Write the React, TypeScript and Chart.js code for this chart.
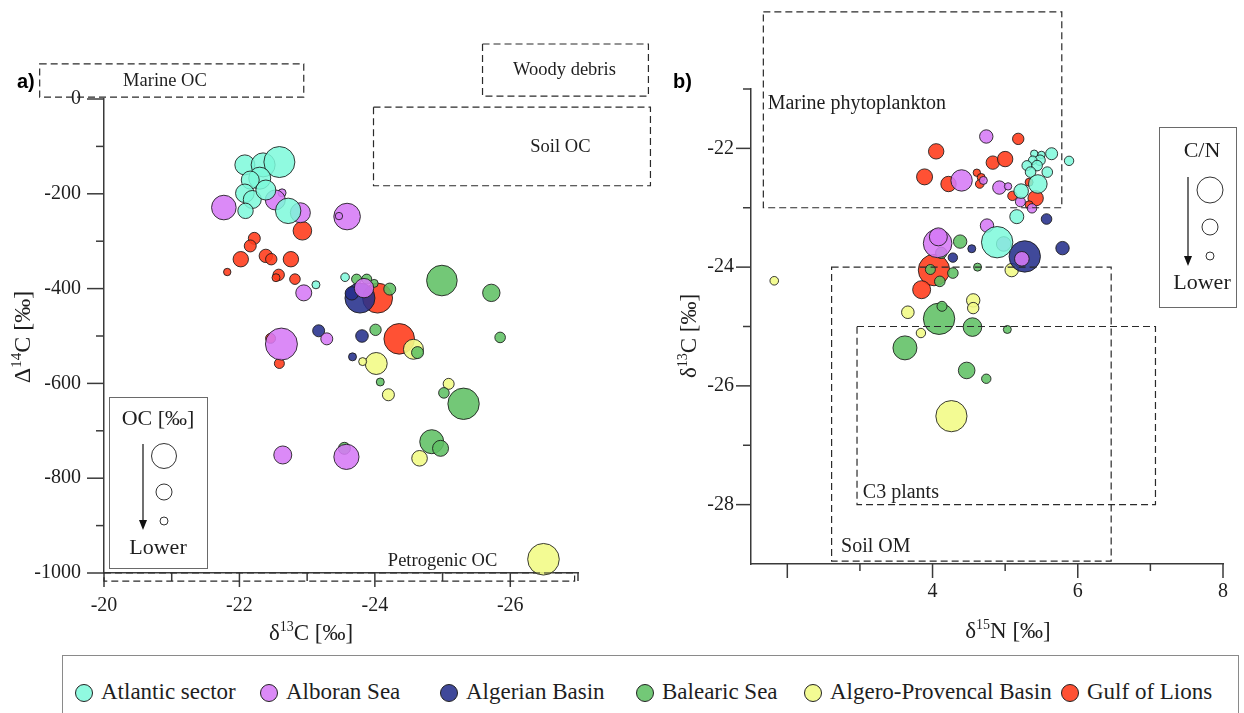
import React, { useEffect, useRef } from 'react';
import { Chart, registerables } from 'chart.js';

Chart.register(...registerables);

const SERIF = '"Liberation Serif", "Times New Roman", serif';
const SANS = '"Liberation Sans", Arial, sans-serif';
const INK = '#1e1e1e';
const AXIS = '#3a3a3a';

// ---------------- data ----------------
const regionNames = ['Atlantic sector', 'Alboran Sea', 'Algerian Basin', 'Balearic Sea', 'Algero-Provencal Basin', 'Gulf of Lions'];

// Panel a: [δ13C ‰, Δ14C ‰, OC size]
const atlanticA = [[-22.08, -139, 10], [-22.35, -139, 12], [-22.59, -133, 15.5], [-22.30, -167, 11], [-22.16, -171, 9], [-22.08, -199, 9.3], [-22.19, -212, 9], [-22.39, -192, 10], [-22.09, -236, 7.7], [-22.72, -236, 12.7], [-23.56, -376, 4.3], [-23.13, -392, 4]];
const alboranA = [[-21.77, -229, 12.3], [-22.63, -198, 4], [-22.53, -213, 10], [-22.90, -240, 10], [-23.59, -248, 13.3], [-23.47, -247, 3.7], [-22.95, -409, 8], [-23.84, -399, 9.7], [-23.29, -506, 6], [-22.62, -517, 16], [-22.64, -751, 9], [-23.58, -755, 12.6]];
const algerianA = [[-23.78, -420, 15], [-23.66, -410, 6.7], [-23.17, -489, 6], [-23.81, -500, 6.3], [-23.67, -544, 4]];
const balearicA = [[-23.73, -380, 5], [-23.88, -380, 5], [-23.99, -389, 4], [-24.22, -401, 6], [-24.99, -383, 15.3], [-25.72, -409, 8.7], [-24.01, -487, 5.7], [-24.63, -535, 6], [-25.85, -503, 5.3], [-24.08, -597, 4], [-25.02, -620, 5.3], [-25.31, -643, 15.7], [-24.84, -723, 12], [-24.97, -737, 8], [-23.55, -737, 6]];
const algeroA = [[-24.02, -558, 11], [-23.82, -554, 4], [-24.57, -528, 10], [-24.20, -624, 6], [-25.09, -601, 5.5], [-24.66, -758, 7.8], [-26.49, -971, 15.8]];
const gulfA = [[-22.93, -278, 9.3], [-22.22, -294, 6], [-22.16, -310, 6], [-22.02, -338, 7.7], [-22.39, -331, 6.7], [-22.47, -338, 5.7], [-22.76, -338, 7.7], [-21.82, -365, 3.7], [-22.58, -371, 5.7], [-22.54, -377, 4], [-22.82, -380, 5.3], [-24.04, -420, 15], [-24.36, -506, 15.3], [-22.46, -505, 5], [-22.59, -558, 5]];

// Panel b: [δ15N ‰, δ13C ‰, C/N size]
const atlanticB = [[5.40, -22.09, 3.7], [5.50, -22.11, 3.7], [5.64, -22.09, 6], [5.88, -22.21, 4.7], [5.48, -22.20, 5.3], [5.38, -22.20, 4.3], [5.30, -22.29, 5], [5.44, -22.29, 5.3], [5.35, -22.40, 5.3], [5.58, -22.40, 5.3], [5.45, -22.60, 9.3], [5.22, -22.72, 7.3], [5.16, -23.15, 7], [4.89, -23.58, 15.7]];
const alboranB = [[4.74, -21.80, 6.7], [4.40, -22.54, 10.7], [4.70, -22.54, 4], [4.92, -22.66, 6.7], [5.04, -22.64, 3.7], [5.21, -22.90, 5], [5.37, -23.01, 4.7], [4.75, -23.30, 6.7], [4.07, -23.60, 14.3], [4.08, -23.49, 9], [4.98, -23.61, 7.3], [5.23, -23.86, 7.3]];
const algerianB = [[5.57, -23.19, 5.3], [4.54, -23.69, 4], [4.28, -23.84, 4.7], [5.27, -23.82, 15.7], [5.79, -23.68, 6.7]];
const balearicB = [[4.38, -23.57, 6.7], [4.12, -23.76, 5.7], [4.28, -24.10, 5.3], [4.10, -24.24, 5.3], [3.97, -24.04, 5], [4.62, -24.00, 4], [4.09, -24.87, 15.7], [4.13, -24.66, 5], [4.55, -25.01, 9.3], [5.03, -25.05, 4], [3.62, -25.36, 12], [4.47, -25.74, 8.3], [4.74, -25.88, 4.7]];
const algeroB = [[5.09, -24.05, 6.7], [4.56, -24.56, 6.7], [4.56, -24.69, 5.7], [3.66, -24.76, 6.3], [3.84, -25.11, 4.7], [4.26, -26.51, 15.6], [1.82, -24.23, 4.3]];
const gulfB = [[5.18, -21.84, 5.7], [4.05, -22.05, 7.7], [4.83, -22.24, 6.7], [5.00, -22.18, 7.7], [3.89, -22.48, 8], [4.22, -22.60, 7.7], [4.61, -22.41, 3.7], [4.67, -22.49, 4], [4.65, -22.60, 4.3], [5.33, -22.57, 4], [5.10, -22.80, 4.7], [5.42, -22.84, 7.7], [5.33, -22.95, 4], [4.02, -24.05, 15.7], [3.85, -24.38, 9]];

// tick labels / tick positions
const xLabelsA = [-20, -22, -24, -26];
const xMinorA = [-21, -23, -25, -27];
const yLabelsA = [0, -200, -400, -600, -800, -1000];
const yMinorA = [-100, -300, -500, -700, -900];
const xLabelsB = [2, 4, 6, 8];
const xMinorB = [3, 5, 7];
const yLabelsB = [-22, -24, -26, -28];
const yMinorB = [-21, -23, -25, -27];

// axis titles: [text, superscript, text]
const xTitleA = ['δ', '13', 'C [‰]'];
const yTitleA = ['Δ', '14', 'C [‰]'];
const xTitleB = ['δ', '15', 'N [‰]'];
const yTitleB = ['δ', '13', 'C [‰]'];

// source end-member regions (data units): [label, x0, x1, y0, y1, textX, textY, align]
const regionsA: [string, number, number, number, number, number, number, CanvasTextAlign][] = [
  ['Marine OC', -19.05, -22.95, 74, 4, -20.9, 38, 'center'],
  ['Woody debris', -25.59, -28.04, 116, 6, -26.8, 61, 'center'],
  ['Soil OC', -23.98, -28.07, -17, -183, -26.74, -101, 'center'],
  ['Petrogenic OC', -20, -26.95, -1000, -1017, -25.0, -975, 'center'],
];
const regionsB: [string, number, number, number, number, number, number, CanvasTextAlign][] = [
  ['Marine phytoplankton', 1.67, 5.78, -19.7, -23.0, 1.73, -21.24, 'left'],
  ['Soil OM', 2.61, 6.46, -24.0, -28.95, 2.74, -28.71, 'left'],
  ['C3 plants', 2.96, 7.07, -25.0, -28.0, 3.04, -27.8, 'left'],
];

// ---------------- styles ----------------
const fills = ['rgba(125,249,218,0.85)', 'rgba(214,122,246,0.88)', 'rgba(38,48,140,0.88)', 'rgba(96,192,100,0.88)', 'rgba(242,251,135,0.9)', 'rgba(255,62,30,0.9)'];

function makeDatasets(series: number[][][]) {
  return series.map((arr, i) => ({
    label: regionNames[i],
    data: arr.map(([x, y, r]) => ({ x, y, r })),
    backgroundColor: fills[i],
    borderColor: 'rgba(25,25,25,0.85)',
    borderWidth: 1,
    clip: false as any,
  }));
}

function drawSupTitle(ctx: CanvasRenderingContext2D, parts: string[], cx: number, cy: number, size: number, rotate: boolean) {
  const sub = Math.round(size * 0.62);
  ctx.save();
  ctx.translate(cx, cy);
  if (rotate) ctx.rotate(-Math.PI / 2);
  ctx.textBaseline = 'alphabetic';
  ctx.textAlign = 'left';
  ctx.fillStyle = INK;
  const fBig = `${size}px ${SERIF}`;
  const fSm = `${sub}px ${SERIF}`;
  ctx.font = fBig;
  const w0 = ctx.measureText(parts[0]).width;
  const w2 = ctx.measureText(parts[2]).width;
  ctx.font = fSm;
  const w1 = ctx.measureText(parts[1]).width;
  const total = w0 + w1 + w2;
  let x = -total / 2;
  const base = size * 0.33;
  ctx.font = fBig;
  ctx.fillText(parts[0], x, base);
  x += w0;
  ctx.font = fSm;
  ctx.fillText(parts[1], x, base - size * 0.36);
  x += w1;
  ctx.font = fBig;
  ctx.fillText(parts[2], x, base);
  ctx.restore();
}

type Decor = {
  xMajor: number[]; xMinor: number[]; yMajor: number[]; yMinor: number[];
  xMajLen: number; xMinLen: number; yMajLen: number; yMinLen: number;
  regions: typeof regionsA; regionFont: number;
  panel: string; panelPos: [number, number];
  xTitle: string[]; xTitlePos: [number, number]; yTitle: string[]; yTitlePos: [number, number]; xTitleSize: number; yTitleSize: number;
  sizeLegend: { box: [number, number, number, number]; title: string; titleY: number; textX: number; arrowX: number; arrowTop: number; arrowBottom: number; cx: number; circles: [number, number][]; lowerY: number };
};

function decorPlugin(d: Decor) {
  return {
    id: 'decor',
    afterDraw(chart: any) {
      const { ctx } = chart;
      const xs = chart.scales.x, ys = chart.scales.y;
      const ax = chart.chartArea;
      ctx.save();
      // tick marks
      ctx.strokeStyle = AXIS;
      ctx.lineWidth = 1.5;
      ctx.setLineDash([]);
      const xt = (vals: number[], len: number) => vals.forEach(v => {
        const p = xs.getPixelForValue(v);
        ctx.beginPath(); ctx.moveTo(p, ax.bottom); ctx.lineTo(p, ax.bottom + len); ctx.stroke();
      });
      const yt = (vals: number[], len: number) => vals.forEach(v => {
        const p = ys.getPixelForValue(v);
        ctx.beginPath(); ctx.moveTo(ax.left, p); ctx.lineTo(ax.left - len, p); ctx.stroke();
      });
      xt(d.xMajor, d.xMajLen); xt(d.xMinor, d.xMinLen);
      yt(d.yMajor, d.yMajLen); yt(d.yMinor, d.yMinLen);

      // axis titles
      drawSupTitle(ctx, d.xTitle, d.xTitlePos[0], d.xTitlePos[1], d.xTitleSize, false);
      drawSupTitle(ctx, d.yTitle, d.yTitlePos[0], d.yTitlePos[1], d.yTitleSize, true);

      // dashed regions
      ctx.strokeStyle = '#2a2a2a';
      ctx.lineWidth = 1.2;
      ctx.setLineDash([7, 4]);
      ctx.fillStyle = INK;
      ctx.font = `${d.regionFont}px ${SERIF}`;
      ctx.textBaseline = 'middle';
      d.regions.forEach(([label, x0, x1, y0, y1, tx, ty, align]) => {
        const px0 = xs.getPixelForValue(x0), px1 = xs.getPixelForValue(x1);
        const py0 = ys.getPixelForValue(y0), py1 = ys.getPixelForValue(y1);
        ctx.strokeRect(Math.min(px0, px1), Math.min(py0, py1), Math.abs(px1 - px0), Math.abs(py1 - py0));
        ctx.textAlign = align;
        ctx.fillText(label, xs.getPixelForValue(tx), ys.getPixelForValue(ty));
      });
      ctx.setLineDash([]);

      // panel letter
      ctx.font = `bold 20px ${SANS}`;
      ctx.textAlign = 'left';
      ctx.fillStyle = '#000';
      ctx.fillText(d.panel, d.panelPos[0], d.panelPos[1]);

      // size legend
      const s = d.sizeLegend;
      ctx.strokeStyle = '#6a6a6a';
      ctx.lineWidth = 1;
      ctx.fillStyle = '#fff';
      ctx.fillRect(s.box[0], s.box[1], s.box[2], s.box[3]);
      ctx.strokeRect(s.box[0] + 0.5, s.box[1] + 0.5, s.box[2], s.box[3]);
      ctx.fillStyle = INK;
      ctx.font = `22px ${SERIF}`;
      ctx.textAlign = 'center';
      ctx.fillText(s.title, s.textX, s.titleY);
      ctx.fillText('Lower', s.textX, s.lowerY);
      ctx.strokeStyle = '#111';
      ctx.lineWidth = 1.2;
      ctx.beginPath(); ctx.moveTo(s.arrowX, s.arrowTop); ctx.lineTo(s.arrowX, s.arrowBottom - 8); ctx.stroke();
      ctx.fillStyle = '#111';
      ctx.beginPath(); ctx.moveTo(s.arrowX, s.arrowBottom); ctx.lineTo(s.arrowX - 4, s.arrowBottom - 10); ctx.lineTo(s.arrowX + 4, s.arrowBottom - 10); ctx.closePath(); ctx.fill();
      ctx.strokeStyle = '#333';
      ctx.lineWidth = 1;
      s.circles.forEach(([cy, r]) => { ctx.beginPath(); ctx.arc(s.cx, cy, r, 0, Math.PI * 2); ctx.stroke(); });
      ctx.restore();
    },
  };
}

function axisCommon(labels: number[]) {
  return {
    type: 'linear' as const,
    grid: { display: false, drawTicks: false },
    border: { display: true, color: AXIS, width: 1.5 },
    title: { display: false },
    ticks: {
      stepSize: 1,
      autoSkip: false,
      maxRotation: 0,
      color: INK,
      font: { family: SERIF, size: 20 },
      callback: (v: any) => (labels.includes(Number(v)) ? String(v) : ''),
    },
  };
}

function ScatterPanel(props: { which: 'a' | 'b'; left: number; width: number }) {
  const ref = useRef<HTMLCanvasElement>(null);
  useEffect(() => {
    const isA = props.which === 'a';
    const series = isA ? [atlanticA, alboranA, algerianA, balearicA, algeroA, gulfA] : [atlanticB, alboranB, algerianB, balearicB, algeroB, gulfB];
    const xBase = axisCommon(isA ? xLabelsA : xLabelsB);
    const yBase = axisCommon(isA ? yLabelsA : yLabelsB);
    const decor: Decor = isA
      ? {
          xMajor: xLabelsA, xMinor: xMinorA, yMajor: yLabelsA, yMinor: yMinorA,
          xMajLen: 14, xMinLen: 8, yMajLen: 17, yMinLen: 8,
          regions: regionsA, regionFont: 18.5, panel: 'a)', panelPos: [17, 82],
          xTitle: xTitleA, xTitlePos: [311, 632], yTitle: yTitleA, yTitlePos: [22, 337], xTitleSize: 23, yTitleSize: 24,
          sizeLegend: { box: [109, 397, 98, 171], title: 'OC [‰]', titleY: 419, textX: 158, arrowX: 143, arrowTop: 444, arrowBottom: 530, cx: 164, circles: [[456, 12.5], [492, 8], [521, 4]], lowerY: 548 },
        }
      : {
          xMajor: xLabelsB, xMinor: xMinorB, yMajor: yLabelsB, yMinor: yMinorB,
          xMajLen: 14, xMinLen: 7, yMajLen: 15, yMinLen: 8,
          regions: regionsB, regionFont: 20, panel: 'b)', panelPos: [13, 82],
          xTitle: xTitleB, xTitlePos: [348, 630], yTitle: yTitleB, yTitlePos: [28, 336], xTitleSize: 23, yTitleSize: 23,
          sizeLegend: { box: [499, 127, 77, 180], title: 'C/N', titleY: 151, textX: 542, arrowX: 528, arrowTop: 177, arrowBottom: 266, cx: 550, circles: [[190, 13], [227, 8], [256, 4]], lowerY: 283 },
        };
    const chart = new Chart(ref.current as HTMLCanvasElement, {
      type: 'bubble',
      data: { datasets: makeDatasets(series) as any },
      options: {
        animation: false,
        responsive: false,
        devicePixelRatio: 1,
        events: [],
        layout: { padding: isA ? { left: 0, right: 82, top: 99, bottom: 0 } : { left: 0, right: 17, top: 89, bottom: 0 } },
        plugins: { legend: { display: false }, tooltip: { enabled: false } },
        scales: {
          x: {
            ...xBase,
            min: isA ? -27 : 1.5,
            max: isA ? -20 : 8,
            reverse: isA,
            ticks: { ...xBase.ticks, padding: isA ? 21 : 16 },
            afterFit: (s: any) => { s.height = isA ? 77 : 86; },
          },
          y: {
            ...yBase,
            min: isA ? -1000 : -29,
            max: isA ? 0 : -21,
            ticks: { ...yBase.ticks, stepSize: isA ? 100 : 1, padding: isA ? 23 : 17 },
            afterFit: (s: any) => { s.width = isA ? 104 : 91; },
          },
        } as any,
      },
      plugins: [decorPlugin(decor)],
    });
    return () => chart.destroy();
  }, [props.which]);
  return (
    <canvas
      ref={ref}
      width={props.width}
      height={650}
      style={{ position: 'absolute', left: props.left, top: 0, width: props.width, height: 650 }}
    />
  );
}

const legendCircleX = [84, 269, 449, 645, 813, 1070];

export default function App() {
  return (
    <div style={{ position: 'absolute', left: 0, top: 0, width: 1244, height: 713, overflow: 'hidden', background: '#fff', fontFamily: SERIF }}>
      <ScatterPanel which="a" left={0} width={660} />
      <ScatterPanel which="b" left={660} width={584} />
      <div style={{ position: 'absolute', left: 62, top: 655, width: 1177, height: 80, border: '1px solid #8a8a8a', boxSizing: 'border-box' }} />
      {regionNames.map((name, i) => (
        <React.Fragment key={name}>
          <div style={{ position: 'absolute', left: legendCircleX[i] - 9, top: 684, width: 18, height: 18, borderRadius: '50%', background: fills[i], border: '1px solid #222', boxSizing: 'border-box' }} />
          <div style={{ position: 'absolute', left: legendCircleX[i] + 17, top: 678, fontSize: 23, lineHeight: '28px', color: INK, whiteSpace: 'nowrap' }}>{name}</div>
        </React.Fragment>
      ))}
    </div>
  );
}
